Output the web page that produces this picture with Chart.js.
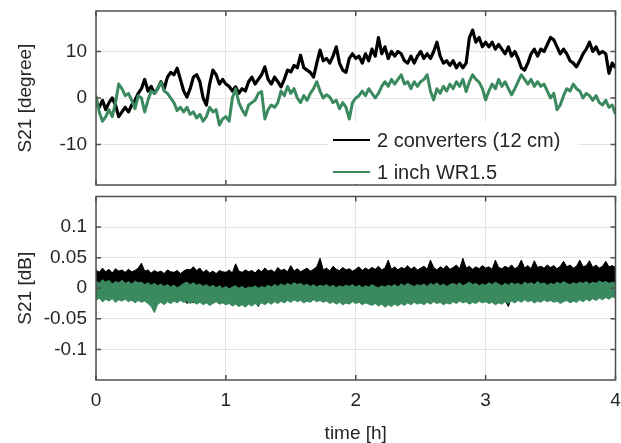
<!DOCTYPE html>
<html>
<head>
<meta charset="utf-8">
<script src="https://cdn.jsdelivr.net/npm/chart.js@4.4.1/dist/chart.umd.min.js"></script>
<style>
  html, body { margin: 0; padding: 0; background: #ffffff; }
  #wrap { position: relative; width: 621px; height: 443px; overflow: hidden; }
  #top { position: absolute; left: 0; top: 0; }
  #bottom { position: absolute; left: 0; top: 190px; }
</style>
</head>
<body>
<div id="wrap">
  <canvas id="top" width="621" height="190"></canvas>
  <canvas id="bottom" width="621" height="253"></canvas>
</div>
<script>
// ---------- data ----------
const sampleStepH = 0.025;            // hours between samples (0 .. 4 h)
const seriesNames = ['2 converters (12 cm)', '1 inch WR1.5'];
const xTicks = [0, 1, 2, 3, 4];
const phaseTicks = [-10, 0, 10];
const ampTicks = [-0.1, -0.05, 0, 0.05, 0.1];
const ampTickLabels = ['-0.1', '-0.05', '0', '0.05', '0.1'];

// S21 phase [degree]
const phaseConverters = [
  -1,-2,-0.5,-2.5,-1,0,-1.5,-4,-3,-2,
  -3,-1.5,-0.5,1,2,4,1.5,2.5,1,2,
  3.5,2,4.5,5.5,5,6.4,4,1.5,0.2,2,
  4.5,5,3.5,0,-1.5,3,6,5,3,4,
  3,2.5,1.5,2.4,1,2,1.5,3.5,4.5,3,
  4,5,6.7,4,3,4.5,3.5,2.4,4,6,
  5.6,7,6.5,9.2,6.5,6,5.5,4.5,7.5,10.3,
  8,8.5,7.5,9,11,7.5,6,5.5,8.5,9.5,
  8.5,9,7.5,9.5,8,10.5,9,13,9.5,11,
  8.5,10,9,10,9.5,8,7.5,9,7.5,9,
  10,8.5,9.5,8.5,10,12,9,7.5,8,7,
  8,6.5,7.5,6.5,7.5,13,14.6,12,13,11,
  12,11,12,10.5,11.5,10.5,9.5,11,9,10,
  8.5,6.5,6,7.5,9.5,10.5,9,10.5,10,11.5,
  13,12.5,11,9.5,10.5,9.5,8,7.5,6.7,8,
  9.5,10.5,12,10,11,9.5,10,9.5,5.3,7.5,
  6.5
];
const phaseWR15 = [
  0.5,-3,-5,-4,-2.5,-4,-1,3,2,0.5,
  1,-0.5,-2.3,0.5,0,-3,-0.5,1.5,1,2,
  3.4,1.5,1,0,-1,-2.7,-2,-3,-2,-3.5,
  -3,-4.3,-3.5,-5,-4,-2,-3,-2.5,-5.8,-4.5,
  -4,-5,0,2,-1,-2.5,-3.7,-1.5,-1,-0.5,
  1,1.4,-4.5,-2.5,-1.5,-2,-1,1.5,0.5,2.5,
  1,2,0,-1,0.5,-0.5,1,2,3.5,1.5,
  0,0.7,0.2,-1,-0.5,-2.3,-1,-2,-4.5,-1,
  0,0.5,1.5,0.5,2,1,0,1,2.5,3.5,
  2.5,4,3,4,5,3,3.5,2,3.5,2.5,
  3.5,4,5,1.5,-0.4,2,1,2.5,1.5,3,
  2,3.5,2.5,4,1.4,3.5,5,4,3.4,2,
  -0.4,1.5,3,2,4,2.5,3.5,2,0.7,2,
  3.5,5,4,3,4,2.5,3.5,2.5,3,1.5,
  0,1,-2.5,-1.5,0.5,2,1.5,3,2,1.5,
  0,1,0.5,-0.5,0.5,-1,-1.5,-0.5,-2,-1.5,
  -3.5
];

// S21 amplitude [dB]: upper / lower envelope of each noise band
const ampConvertersHigh = [
  0.030,0.026,0.033,0.027,0.031,0.025,0.032,0.028,0.030,0.026,
  0.031,0.027,0.029,0.033,0.041,0.028,0.030,0.025,0.029,0.026,
  0.028,0.024,0.030,0.027,0.026,0.029,0.024,0.028,0.031,0.030,
  0.035,0.029,0.033,0.026,0.030,0.025,0.028,0.024,0.029,0.027,
  0.026,0.030,0.025,0.040,0.028,0.026,0.030,0.027,0.029,0.025,
  0.031,0.027,0.033,0.028,0.030,0.026,0.034,0.029,0.031,0.027,
  0.037,0.028,0.032,0.027,0.030,0.033,0.028,0.031,0.035,0.049,
  0.030,0.033,0.028,0.036,0.031,0.029,0.034,0.030,0.032,0.028,
  0.031,0.035,0.029,0.033,0.030,0.034,0.031,0.036,0.030,0.033,
  0.046,0.031,0.035,0.030,0.034,0.032,0.037,0.031,0.035,0.030,
  0.033,0.036,0.031,0.046,0.034,0.030,0.035,0.032,0.037,0.031,
  0.034,0.038,0.032,0.049,0.033,0.036,0.031,0.035,0.032,0.037,
  0.033,0.035,0.031,0.046,0.034,0.032,0.036,0.033,0.038,0.032,
  0.035,0.046,0.033,0.037,0.032,0.045,0.034,0.036,0.033,0.038,
  0.034,0.037,0.032,0.036,0.044,0.035,0.038,0.033,0.036,0.046,
  0.035,0.037,0.045,0.034,0.038,0.033,0.036,0.044,0.035,0.037,
  0.034
];
const ampConvertersLow = [
  -0.018,-0.012,-0.022,-0.015,-0.020,-0.010,-0.017,-0.012,-0.015,-0.009,
  -0.013,-0.020,-0.011,-0.008,-0.012,-0.009,-0.014,-0.010,-0.012,-0.008,
  -0.011,-0.009,-0.013,-0.010,-0.012,-0.008,-0.014,-0.018,-0.025,-0.020,
  -0.024,-0.015,-0.012,-0.010,-0.013,-0.009,-0.011,-0.008,-0.012,-0.010,
  -0.009,-0.012,-0.008,-0.011,-0.009,-0.013,-0.010,-0.012,-0.015,-0.022,
  -0.030,-0.018,-0.026,-0.014,-0.011,-0.009,-0.012,-0.008,-0.011,-0.009,
  -0.012,-0.008,-0.010,-0.007,-0.011,-0.008,-0.010,-0.006,-0.009,-0.007,
  -0.010,-0.008,-0.011,-0.007,-0.009,-0.006,-0.010,-0.008,-0.011,-0.007,
  -0.009,-0.006,-0.010,-0.008,-0.007,-0.010,-0.006,-0.009,-0.007,-0.010,
  -0.008,-0.006,-0.009,-0.007,-0.010,-0.008,-0.006,-0.009,-0.007,-0.008,
  -0.006,-0.009,-0.007,-0.010,-0.008,-0.006,-0.009,-0.007,-0.008,-0.006,
  -0.009,-0.007,-0.010,-0.008,-0.006,-0.009,-0.007,-0.008,-0.006,-0.009,
  -0.007,-0.008,-0.006,-0.009,-0.007,-0.012,-0.020,-0.030,-0.015,-0.008,
  -0.006,-0.009,-0.007,-0.008,-0.006,-0.009,-0.007,-0.008,-0.006,-0.009,
  -0.007,-0.008,-0.006,-0.009,-0.007,-0.008,-0.006,-0.009,-0.007,-0.008,
  -0.006,-0.009,-0.007,-0.008,-0.006,-0.009,-0.007,-0.008,-0.006,-0.009,
  -0.007
];
const ampWR15High = [
  0.012,0.008,0.014,0.010,0.013,0.007,0.011,0.009,0.013,0.008,
  0.011,0.007,0.012,0.009,0.010,0.006,0.009,0.005,0.008,0.004,
  0.007,0.003,0.006,0.002,0.005,0.001,0.004,0.008,0.010,0.006,
  0.009,0.005,0.007,0.003,0.006,0.002,0.005,0.001,0.004,0.000,
  0.003,-0.001,0.002,0.004,0.000,0.003,-0.001,0.002,0.001,0.004,
  0.000,0.003,0.001,0.005,0.002,0.006,0.003,0.007,0.004,0.008,
  0.005,0.009,0.006,0.008,0.004,0.007,0.003,0.006,0.002,0.005,
  0.003,0.006,0.002,0.005,0.001,0.004,0.002,0.005,0.003,0.006,
  0.002,0.005,0.001,0.004,0.002,0.006,0.003,0.001,0.004,0.002,
  0.005,0.003,0.006,0.002,0.007,0.004,0.008,0.005,0.003,0.006,
  0.004,0.007,0.003,0.008,0.005,0.009,0.004,0.007,0.003,0.006,
  0.008,0.005,0.009,0.004,0.007,0.010,0.006,0.008,0.004,0.007,
  0.005,0.009,0.006,0.010,0.007,0.004,0.008,0.005,0.009,0.006,
  0.008,0.005,0.010,0.007,0.009,0.006,0.011,0.007,0.009,0.005,
  0.008,0.006,0.010,0.007,0.011,0.008,0.006,0.009,0.007,0.010,
  0.008,0.011,0.007,0.010,0.008,0.012,0.009,0.011,0.008,0.010,
  0.009
];
const ampWR15Low = [
  -0.020,-0.016,-0.022,-0.018,-0.021,-0.017,-0.023,-0.019,-0.021,-0.018,
  -0.022,-0.019,-0.024,-0.020,-0.023,-0.021,-0.025,-0.030,-0.040,-0.026,
  -0.023,-0.027,-0.022,-0.025,-0.021,-0.024,-0.020,-0.023,-0.021,-0.025,
  -0.022,-0.026,-0.023,-0.027,-0.024,-0.028,-0.025,-0.022,-0.026,-0.024,
  -0.027,-0.025,-0.029,-0.026,-0.030,-0.027,-0.031,-0.026,-0.029,-0.025,
  -0.028,-0.024,-0.027,-0.023,-0.026,-0.022,-0.025,-0.021,-0.024,-0.020,
  -0.023,-0.019,-0.022,-0.020,-0.024,-0.021,-0.023,-0.019,-0.022,-0.020,
  -0.023,-0.021,-0.025,-0.022,-0.026,-0.023,-0.027,-0.024,-0.026,-0.022,
  -0.025,-0.023,-0.027,-0.024,-0.026,-0.028,-0.025,-0.029,-0.026,-0.031,
  -0.027,-0.030,-0.026,-0.029,-0.025,-0.028,-0.024,-0.027,-0.023,-0.026,
  -0.024,-0.027,-0.023,-0.026,-0.022,-0.025,-0.023,-0.027,-0.024,-0.026,
  -0.022,-0.025,-0.021,-0.024,-0.022,-0.026,-0.023,-0.025,-0.021,-0.024,
  -0.022,-0.025,-0.023,-0.027,-0.024,-0.026,-0.022,-0.025,-0.021,-0.024,
  -0.020,-0.023,-0.019,-0.022,-0.020,-0.024,-0.021,-0.023,-0.019,-0.022,
  -0.020,-0.023,-0.021,-0.025,-0.022,-0.020,-0.024,-0.021,-0.023,-0.019,
  -0.022,-0.018,-0.021,-0.017,-0.020,-0.016,-0.019,-0.015,-0.018,-0.014,
  -0.016
];

// ---------- styling ----------
const BLACK = '#000000';
const GREEN = '#3b8a5f';
const TEXT = '#262626';
const GRID = '#e4e4e4';
const FRAME = '#4f4f4f';
const FONT = '"Liberation Sans", Arial, Helvetica, sans-serif';

function toPoints(values) {
  return values.map((v, i) => ({ x: i * sampleStepH, y: v }));
}

const framePlugin = {
  id: 'frame',
  afterDatasetsDraw(chart) {
    const { ctx, chartArea: a, scales } = chart;
    ctx.save();
    ctx.strokeStyle = FRAME;
    ctx.lineWidth = 1.5;
    const tl = 5;
    ctx.beginPath();
    scales.x.ticks.forEach(t => {
      const px = scales.x.getPixelForValue(t.value);
      ctx.moveTo(px, a.top); ctx.lineTo(px, a.top + tl);
      ctx.moveTo(px, a.bottom); ctx.lineTo(px, a.bottom - tl);
    });
    scales.y.ticks.forEach(t => {
      const py = scales.y.getPixelForValue(t.value);
      ctx.moveTo(a.left, py); ctx.lineTo(a.left + tl, py);
      ctx.moveTo(a.right, py); ctx.lineTo(a.right - tl, py);
    });
    ctx.stroke();
    ctx.strokeRect(a.left, a.top, a.right - a.left, a.bottom - a.top);
    ctx.restore();
  }
};

const insideLegend = {
  id: 'insideLegend',
  afterDraw(chart, args, opts) {
    if (!opts || !opts.show) return;
    const { ctx } = chart;
    const items = chart.data.datasets.filter(d => d.label);
    ctx.save();
    ctx.fillStyle = '#ffffff';
    ctx.fillRect(opts.x, opts.y, opts.w, opts.h);
    ctx.font = '20px ' + FONT;
    ctx.textBaseline = 'middle';
    items.forEach((d, i) => {
      const cy = opts.y + opts.firstRow + i * opts.rowGap;
      ctx.strokeStyle = d.borderColor;
      ctx.lineWidth = 2;
      ctx.beginPath();
      ctx.moveTo(opts.x + 4, cy);
      ctx.lineTo(opts.x + 41, cy);
      ctx.stroke();
      ctx.fillStyle = TEXT;
      ctx.fillText(d.label, opts.x + 48, cy + 1);
    });
    ctx.restore();
  }
};

function yAxisBase(title) {
  return {
    type: 'linear',
    afterFit(scale) { scale.width = 96; scale.paddingTop = 0; scale.paddingBottom = 0; },
    grid: { color: GRID, lineWidth: 1, drawTicks: false },
    border: { display: false },
    ticks: { color: TEXT, font: { family: FONT, size: 19 }, padding: 9 },
    title: { display: true, text: title, color: TEXT, font: { family: FONT, size: 19, lineHeight: 1.2 }, padding: { top: 14, bottom: 0 } }
  };
}

// ---------- top chart: phase ----------
const topY = yAxisBase('S21 [degree]');
topY.min = -18.7; topY.max = 18.7;
topY.afterBuildTicks = (scale) => { scale.ticks = phaseTicks.map(v => ({ value: v })); };
topY.ticks.callback = (v) => String(v);

new Chart(document.getElementById('top'), {
  type: 'line',
  data: {
    datasets: [
      { label: seriesNames[0], data: toPoints(phaseConverters), borderColor: BLACK, borderWidth: 3.2, order: 2 },
      { label: seriesNames[1], data: toPoints(phaseWR15), borderColor: GREEN, borderWidth: 3, order: 1 }
    ]
  },
  options: {
    responsive: false, animation: false, devicePixelRatio: 1,
    layout: { padding: { left: 0, right: 5.5, top: 11, bottom: 5 } },
    elements: { point: { radius: 0 }, line: { tension: 0, borderJoinStyle: 'round', fill: false } },
    plugins: {
      legend: { display: false }, tooltip: { enabled: false },
      insideLegend: { show: true, x: 329, y: 122, w: 249, h: 62, firstRow: 18, rowGap: 32 }
    },
    scales: {
      x: {
        type: 'linear', min: 0, max: 4,
        afterBuildTicks: (scale) => { scale.ticks = xTicks.map(v => ({ value: v })); },
        afterFit(scale) { scale.height = 0; scale.paddingLeft = 0; scale.paddingRight = 0; },
        grid: { color: GRID, lineWidth: 1, drawTicks: false },
        border: { display: false },
        ticks: { display: false }
      },
      y: topY
    }
  },
  plugins: [framePlugin, insideLegend]
});

// ---------- bottom chart: amplitude ----------
const botY = yAxisBase('S21 [dB]');
botY.min = -0.15; botY.max = 0.15;
botY.afterBuildTicks = (scale) => { scale.ticks = ampTicks.map(v => ({ value: v })); };
botY.ticks.callback = (v) => { const i = ampTicks.findIndex(t => Math.abs(t - v) < 1e-9); return i >= 0 ? ampTickLabels[i] : ''; };

new Chart(document.getElementById('bottom'), {
  type: 'line',
  data: {
    datasets: [
      { data: toPoints(ampConvertersHigh), borderColor: BLACK, backgroundColor: BLACK, borderWidth: 1, fill: '+1', order: 4 },
      { data: toPoints(ampConvertersLow), borderColor: BLACK, borderWidth: 1, fill: false, order: 3 },
      { data: toPoints(ampWR15High), borderColor: GREEN, backgroundColor: GREEN, borderWidth: 1, fill: '+1', order: 2 },
      { data: toPoints(ampWR15Low), borderColor: GREEN, borderWidth: 1, fill: false, order: 1 }
    ]
  },
  options: {
    responsive: false, animation: false, devicePixelRatio: 1,
    layout: { padding: { left: 0, right: 5.5, top: 6.5, bottom: 0 } },
    elements: { point: { radius: 0 }, line: { tension: 0 } },
    plugins: { legend: { display: false }, tooltip: { enabled: false }, insideLegend: { show: false } },
    scales: {
      x: {
        type: 'linear', min: 0, max: 4,
        afterBuildTicks: (scale) => { scale.ticks = xTicks.map(v => ({ value: v })); },
        afterFit(scale) { scale.height = 63; scale.paddingLeft = 0; scale.paddingRight = 0; },
        grid: { color: GRID, lineWidth: 1, drawTicks: false },
        border: { display: false },
        ticks: { color: TEXT, font: { family: FONT, size: 19 }, padding: 9, maxRotation: 0, callback: (v) => String(v) },
        title: { display: true, text: 'time [h]', color: TEXT, font: { family: FONT, size: 19, lineHeight: 1.0 }, padding: { top: 0, bottom: 0 } }
      },
      y: botY
    }
  },
  plugins: [framePlugin]
});
</script>
</body>
</html>
